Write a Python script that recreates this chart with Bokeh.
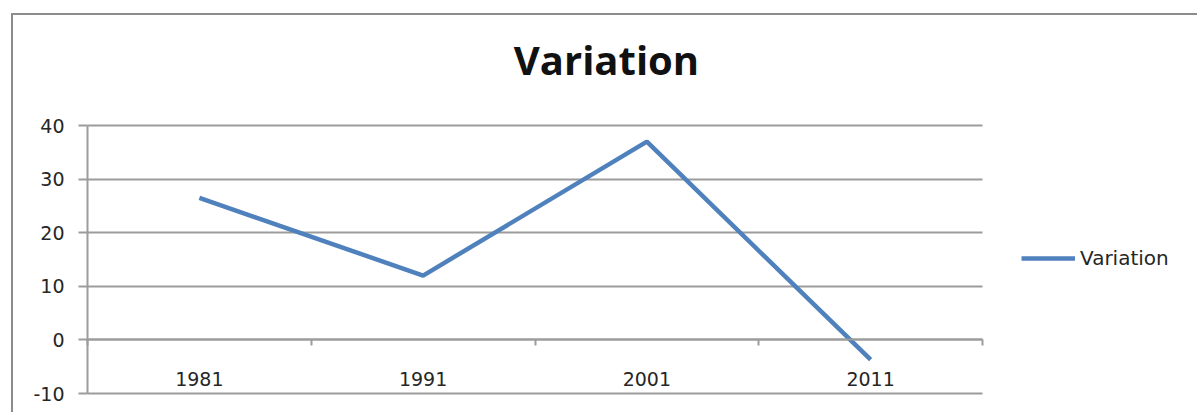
from bokeh.plotting import figure
from bokeh.models import (Range1d, LinearAxis, FixedTicker, Grid, Label,
                          Legend, LegendItem)
from bokeh.embed import file_html
from bokeh.resources import INLINE

# Census decades and the variation recorded for each
years = ["1981", "1991", "2001", "2011"]
variation = [26.5, 12.0, 37.0, -3.7]
y_ticks = [-10, 0, 10, 20, 30, 40]

LINE_BLUE = "#4F81BD"
GRID_GREY = "#9c9c9c"
TEXT_DARK = "#262626"
FONT = "DejaVu Sans"

n = len(years)
xs = [i + 0.5 for i in range(n)]          # centre of each category band
bounds = list(range(n + 1))               # edges between category bands

# Canvas geometry (pixels) and where the plotting area sits inside it
W, H = 1186, 399
AREA_L, AREA_R = 74, 969                  # x of first / last band edge
AREA_T, AREA_B = 110, 378                 # y of top / bottom value tick

x_per_px = n / (AREA_R - AREA_L)
y_lo, y_hi = y_ticks[0], y_ticks[-1]
y_per_px = (y_hi - y_lo) / (AREA_B - AREA_T)

x_range = Range1d(-AREA_L * x_per_px, n + (W - AREA_R) * x_per_px)
y_range = Range1d(y_lo - (H - AREA_B) * y_per_px, y_hi + AREA_T * y_per_px)


def sx(px):
    return x_range.start + px * x_per_px


def sy(py):
    return y_range.end - py * y_per_px


p = figure(
    width=W, height=H,
    x_range=x_range, y_range=y_range,
    x_axis_type=None, y_axis_type=None,
    output_backend="svg", toolbar_location=None,
    min_border=0, outline_line_color=None,
    background_fill_color="white", border_fill_color="white",
    margin=(13, 0, 0, 11),
    styles={"border-left": "2px solid #8c8c8c", "border-top": "2px solid #8c8c8c"},
)

# Horizontal gridlines across the category bands only
p.add_layout(Grid(dimension=1, ticker=FixedTicker(ticks=y_ticks),
                  cross_bounds=(0, n),
                  grid_line_color=GRID_GREY, grid_line_width=2))

# Value axis at the left edge of the bands
yaxis = LinearAxis(ticker=FixedTicker(ticks=y_ticks), fixed_location=0,
                   bounds=(y_lo, y_hi))
yaxis.axis_line_color = GRID_GREY
yaxis.axis_line_width = 2
yaxis.major_tick_line_color = GRID_GREY
yaxis.major_tick_line_width = 2
yaxis.major_tick_out = 9
yaxis.major_tick_in = 0
yaxis.minor_tick_line_color = None
yaxis.major_label_standoff = 14
yaxis.major_label_overrides = {t: str(t) for t in y_ticks}
yaxis.major_label_text_font = FONT
yaxis.major_label_text_font_size = "19px"
yaxis.major_label_text_color = TEXT_DARK
p.add_layout(yaxis, "left")

# Category axis crossing at zero: labels at band centres,
# tick marks on the band edges
xaxis = LinearAxis(ticker=FixedTicker(ticks=xs, minor_ticks=bounds),
                   fixed_location=0, bounds=(0, n))
xaxis.axis_line_color = GRID_GREY
xaxis.axis_line_width = 2
xaxis.major_tick_line_color = None
xaxis.major_tick_out = 0
xaxis.major_tick_in = 0
xaxis.minor_tick_line_color = GRID_GREY
xaxis.minor_tick_line_width = 2
xaxis.minor_tick_out = 6
xaxis.minor_tick_in = 0
xaxis.major_label_overrides = {x: y for x, y in zip(xs, years)}
xaxis.major_label_standoff = 26
xaxis.major_label_text_font = FONT
xaxis.major_label_text_font_size = "19px"
xaxis.major_label_text_color = TEXT_DARK
p.add_layout(xaxis, "below")

r = p.line(xs, variation, line_color=LINE_BLUE, line_width=4.5)

# Chart title, centred on the whole chart
p.add_layout(Label(x=sx(W / 2), y=sy(44), text="Variation",
                   text_align="center", text_baseline="alphabetic",
                   text_font="Open Sans", text_font_style="bold",
                   text_font_size="40px", text_color="#111111"))

lg = Legend(items=[LegendItem(label="Variation", renderers=[r])],
            location=(AREA_R + 39, H - 255))
lg.padding = 0
lg.margin = 0
lg.spacing = 0
lg.border_line_color = None
lg.background_fill_alpha = 0
lg.glyph_width = 54
lg.glyph_height = 20
lg.label_standoff = 5
lg.label_text_font = FONT
lg.label_text_font_size = "20px"
lg.label_text_color = TEXT_DARK
p.add_layout(lg)

open("out.html", "w").write(file_html(p, INLINE))
